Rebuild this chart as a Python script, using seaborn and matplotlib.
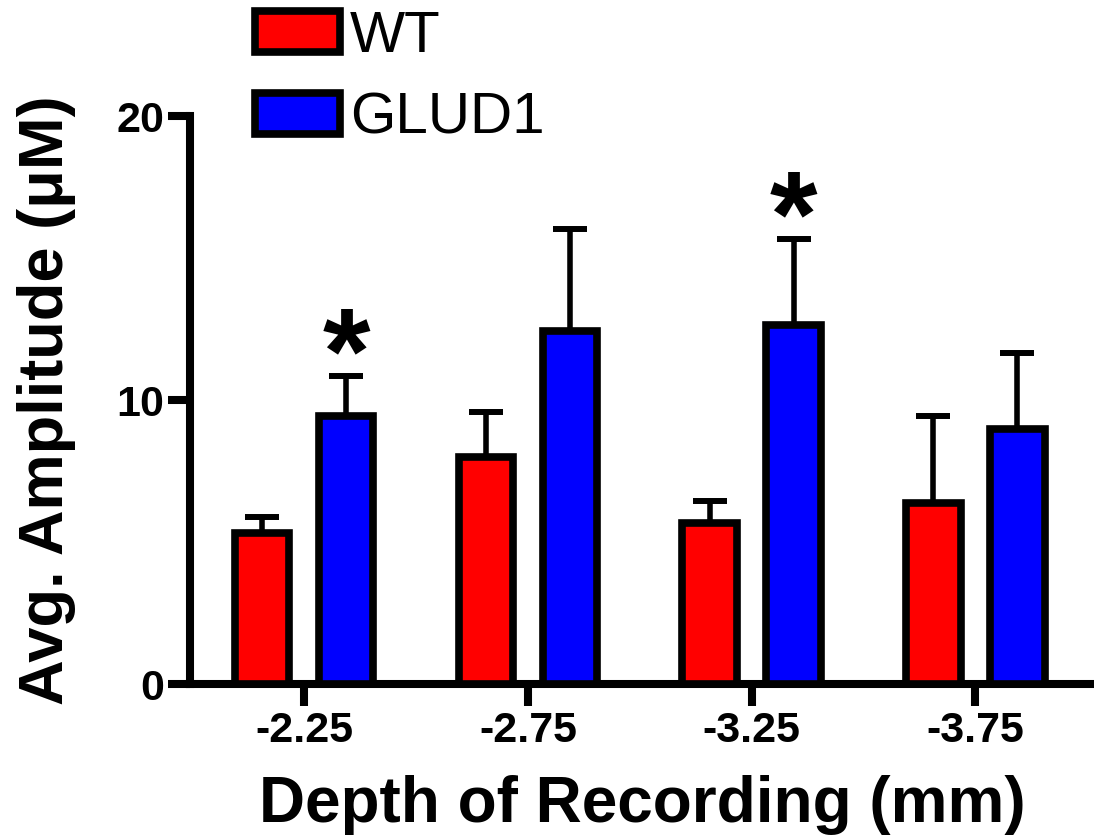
import pandas as pd
import numpy as np
import matplotlib
matplotlib.use("Agg")
import matplotlib.pyplot as plt
from matplotlib.patches import Patch
import seaborn as sns

# values (mean and SEM, uM)
depths = ['-2.25', '-2.75', '-3.25', '-3.75']
groups = ['WT', 'GLUD1']
wt_mean = [5.33, 7.98, 5.68, 6.36]
wt_sem = [0.56, 1.59, 0.77, 3.09]
glud_mean = [9.44, 12.43, 12.64, 8.98]
glud_sem = [1.41, 3.58, 3.04, 2.66]
glud_sig = [True, False, True, False]
colors = {'WT': '#ff0000', 'GLUD1': '#0000ff'}

df = pd.DataFrame({'depth': depths * 2,
                   'amp': wt_mean + glud_mean,
                   'sem': wt_sem + glud_sem,
                   'group': ['WT'] * 4 + ['GLUD1'] * 4})

sns.set_style('ticks')
plt.rcParams['font.family'] = ['Liberation Sans', 'DejaVu Sans']
plt.rcParams['font.weight'] = 'bold'
for k in ['text.color', 'axes.labelcolor', 'xtick.color', 'ytick.color', 'axes.edgecolor']:
    plt.rcParams[k] = 'black'

fig = plt.figure(figsize=(10.94, 8.39), dpi=100)
ax = fig.add_axes([190/1094, 1-684/839, (1094-190)/1094, (684-116)/839])

sns.barplot(data=df, x='depth', y='amp', hue='group', hue_order=groups,
            order=depths, palette=colors, errorbar=None, width=0.75, gap=0.35,
            edgecolor='black', linewidth=5.5, saturation=1, ax=ax, zorder=3)
ax.get_legend().remove()

# one-sided SEM bars on top of each bar
sems = {'WT': wt_sem, 'GLUD1': glud_sem}
for cont, g in zip(ax.containers, groups):
    xs = [b.get_x() + b.get_width()/2 for b in cont]
    hs = [b.get_height() for b in cont]
    ax.errorbar(xs, hs, yerr=[np.zeros(len(hs)), sems[g]], fmt='none',
                ecolor='black', elinewidth=4, capsize=12, capthick=4.3, zorder=2)
    if g == 'GLUD1':
        for x, h, s, sig in zip(xs, hs, sems[g], glud_sig):
            if sig:
                ax.annotate('*', (x, h + s), xytext=(0, -30), textcoords='offset points',
                            ha='center', va='bottom', fontsize=88, fontweight='bold',
                            annotation_clip=False)

ax.set_ylim(0, 20)
ax.set_xlim(-0.51, 3.53)
ax.set_yticks([0, 10, 20])
sns.despine(ax=ax)
for s in ['left', 'bottom']:
    ax.spines[s].set_linewidth(5.8)
ax.tick_params(axis='both', length=15.5, width=5.8, labelsize=31, color='black')
ax.tick_params(axis='x', pad=4)
ax.tick_params(axis='y', pad=3)
ax.set_xlabel('Depth of Recording (mm)', fontsize=46, fontweight='bold', labelpad=17)
ax.set_ylabel('Avg. Amplitude (\u03bcM)', fontsize=45.5, fontweight='bold', labelpad=29)

handles = [Patch(facecolor=colors[g], edgecolor='black', linewidth=5.5) for g in groups]
fig.legend(handles, groups, loc='upper left', bbox_to_anchor=(255/1094, 1 - 10/839),
           frameon=False, borderpad=0, borderaxespad=0, handlelength=1.46,
           handleheight=0.69, handletextpad=0.17, labelspacing=0.48,
           prop={'size': 42, 'weight': 'normal'})

plt.savefig('out.png', dpi=100)
